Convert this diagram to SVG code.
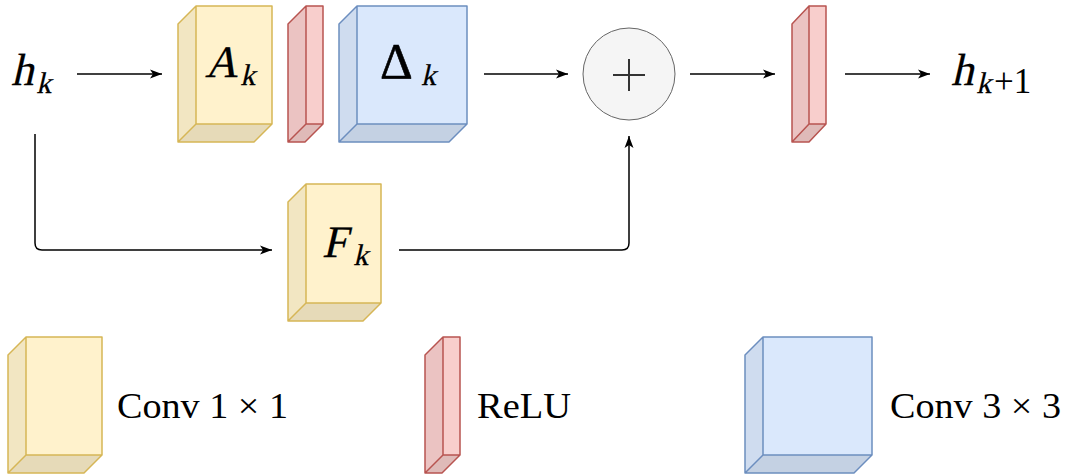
<svg xmlns="http://www.w3.org/2000/svg" width="1067" height="474" viewBox="0 0 1067 474">
<style>
.y .f{fill:#fff2cc}.y .l{fill:#f2e6c2}.y .b{fill:#e6dab8}.y .o{stroke:#d6b656}
.r .f{fill:#f8cecc}.r .l{fill:#ebc3c2}.r .b{fill:#dfbab8}.r .o{stroke:#b85450}
.u .f{fill:#dae8fc}.u .l{fill:#cfdcef}.u .b{fill:#c4d1e3}.u .o{stroke:#6c8ebf}
.o{fill:none;stroke-width:1.5;stroke-linejoin:round}
.e{fill:none;stroke:#000;stroke-width:1.5}
.m{font-family:"Liberation Serif",serif;fill:#000;stroke:#000;stroke-width:0.25}
.M{font-size:45px}
.s{font-size:30px}
.t{font-family:"Liberation Serif",serif;fill:#000;font-size:35px}
</style>
<defs>
<marker id="ar" markerUnits="userSpaceOnUse" markerWidth="13" markerHeight="11" refX="12" refY="5.5" orient="auto">
<path d="M0,1 L12,5.5 L0,10 L3,5.5 Z" fill="#000"/>
</marker>
</defs>

<g id="connectors">
<path class="e" d="M77,74 H162" marker-end="url(#ar)"/>
<path class="e" d="M484,74 H568" marker-end="url(#ar)"/>
<path class="e" d="M690,74 H775" marker-end="url(#ar)"/>
<path class="e" d="M845,74 H930" marker-end="url(#ar)"/>
<path class="e" d="M35,134 V243 Q35,250 42,250 H272" marker-end="url(#ar)"/>
<path class="e" d="M399,250 H622 Q629,250 629,243 V136" marker-end="url(#ar)"/>
</g>

<g id="hk">
<g transform="translate(11,85) skewX(-13)"><text class="m M" x="0" y="0">h</text><text class="m s" x="27" y="8">k</text></g>
</g>

<g id="Ak" class="y">
<rect class="f" x="196" y="6" width="76" height="118"/>
<path class="l" d="M178,24 L196,6 V124 L178,142 Z"/>
<path class="b" d="M178,142 L196,124 H272 L254,142 Z"/>
<path class="o" d="M196,6 H272 V124 L254,142 H178 V24 Z M178,24 L196,6 V124 H272 M196,124 L178,142"/>
<g transform="translate(205,77) skewX(-13)"><text class="m M" x="0" y="0">A</text><text class="m s" x="37" y="8">k</text></g>
</g>

<g id="relu1" class="r">
<rect class="f" x="306" y="6" width="17" height="118"/>
<path class="l" d="M288,24 L306,6 V124 L288,142 Z"/>
<path class="b" d="M288,142 L306,124 H323 L305,142 Z"/>
<path class="o" d="M306,6 H323 V124 L305,142 H288 V24 Z M288,24 L306,6 V124 H323 M306,124 L288,142"/>
</g>

<g id="Dk" class="u">
<rect class="f" x="357" y="6" width="110" height="118"/>
<path class="l" d="M339,24 L357,6 V124 L339,142 Z"/>
<path class="b" d="M339,142 L357,124 H467 L449,142 Z"/>
<path class="o" d="M357,6 H467 V124 L449,142 H339 V24 Z M339,24 L357,6 V124 H467 M357,124 L339,142"/>
<text x="380" y="78" font-size="51" font-family="Liberation Serif, serif" stroke="#000" stroke-width="0.6">Δ</text>
<g transform="translate(421,85) skewX(-13)"><text class="m s" x="0" y="0">k</text></g>
</g>

<g id="plus">
<circle cx="629" cy="74" r="46" fill="#f5f5f5" stroke="#666" stroke-width="1"/>
<path d="M613,75 H645 M629,59 V91" stroke="#333" stroke-width="2" fill="none"/>
</g>

<g id="relu2" class="r">
<rect class="f" x="809" y="6" width="17" height="118"/>
<path class="l" d="M792,24 L809,6 V124 L792,142 Z"/>
<path class="b" d="M792,142 L809,124 H826 L809,142 Z"/>
<path class="o" d="M809,6 H826 V124 L809,142 H792 V24 Z M792,24 L809,6 V124 H826 M809,124 L792,142"/>
</g>

<g id="hk1">
<g transform="translate(951,85) skewX(-13)"><text class="m M" x="0" y="0">h</text><text class="m s" x="27" y="8">k</text></g>
<text class="t" x="994" y="93" font-size="30">+1</text>
</g>

<g id="Fk" class="y">
<rect class="f" x="306" y="184" width="75" height="119"/>
<path class="l" d="M288,202 L306,184 V303 L288,321 Z"/>
<path class="b" d="M288,321 L306,303 H381 L363,321 Z"/>
<path class="o" d="M306,184 H381 V303 L363,321 H288 V202 Z M288,202 L306,184 V303 H381 M306,303 L288,321"/>
<g transform="translate(322,257) skewX(-13)"><text class="m M" x="0" y="0">F</text><text class="m s" x="33" y="8">k</text></g>
</g>

<g id="legend-conv1" class="y">
<rect class="f" x="26" y="337" width="76" height="118"/>
<path class="l" d="M8,355 L26,337 V455 L8,473 Z"/>
<path class="b" d="M8,473 L26,455 H102 L84,473 Z"/>
<path class="o" d="M26,337 H102 V455 L84,473 H8 V355 Z M8,355 L26,337 V455 H102 M26,455 L8,473"/>
<text class="t" x="117" y="418" textLength="171" lengthAdjust="spacingAndGlyphs">Conv 1 × 1</text>
</g>

<g id="legend-relu" class="r">
<rect class="f" x="443" y="337" width="17" height="118"/>
<path class="l" d="M425,355 L443,337 V455 L425,473 Z"/>
<path class="b" d="M425,473 L443,455 H460 L442,473 Z"/>
<path class="o" d="M443,337 H460 V455 L442,473 H425 V355 Z M425,355 L443,337 V455 H460 M443,455 L425,473"/>
<text class="t" x="477" y="418" textLength="94" lengthAdjust="spacingAndGlyphs">ReLU</text>
</g>

<g id="legend-conv3" class="u">
<rect class="f" x="763" y="337" width="109" height="118"/>
<path class="l" d="M745,355 L763,337 V455 L745,473 Z"/>
<path class="b" d="M745,473 L763,455 H872 L854,473 Z"/>
<path class="o" d="M763,337 H872 V455 L854,473 H745 V355 Z M745,355 L763,337 V455 H872 M763,455 L745,473"/>
<text class="t" x="890" y="418" textLength="171" lengthAdjust="spacingAndGlyphs">Conv 3 × 3</text>
</g>
</svg>
